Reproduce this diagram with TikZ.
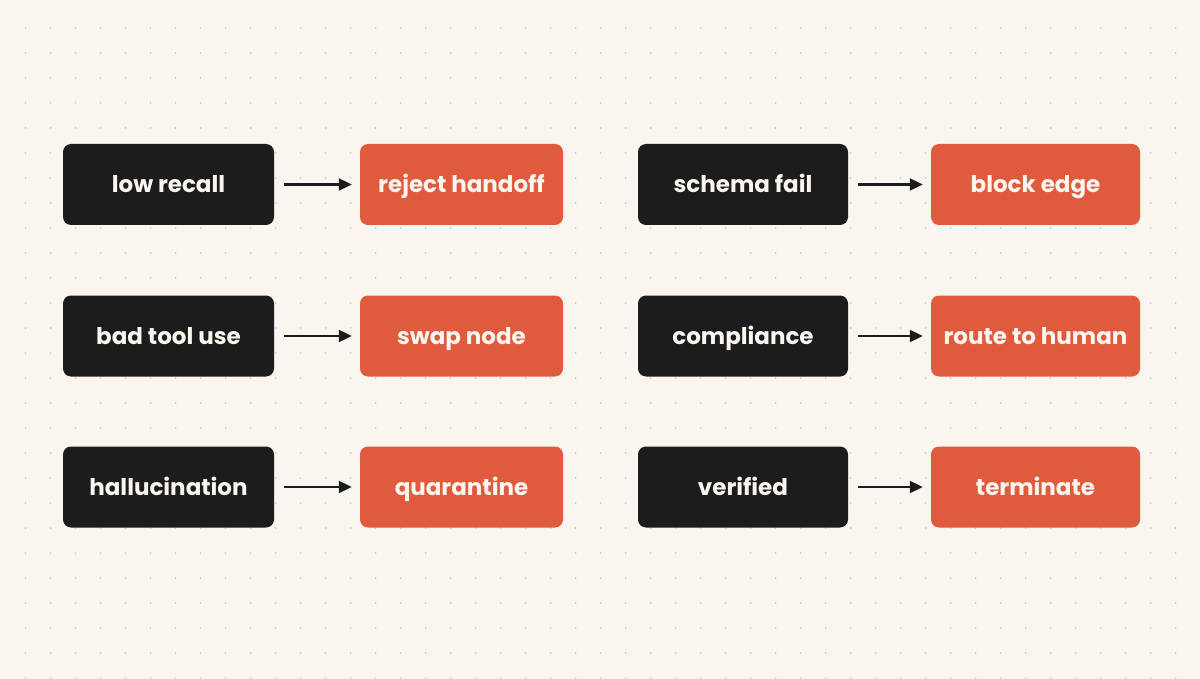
\documentclass[tikz,border=0pt]{standalone}
\usepackage{fontspec}
\setmainfont{Poppins}
\usetikzlibrary{arrows.meta}
\definecolor{bg}{HTML}{F9F6F0}
\definecolor{dotc}{HTML}{D2CDC4}
\definecolor{darkbox}{HTML}{1C1C1C}
\definecolor{orangebox}{HTML}{E05B3E}
\definecolor{boxtext}{HTML}{FAF6EF}
\tikzset{
  box/.style={rounded corners=8pt, inner sep=0pt, minimum height=81pt, text=boxtext,
    text height=17pt, text depth=0pt,
    font=\fontsize{23}{26}\selectfont\bfseries},
  cond/.style={box, fill=darkbox},
  act/.style={box, fill=orangebox},
  link/.style={-{Triangle[length=13pt,width=12pt]}, line width=2.1pt, draw=darkbox,
    shorten <=10pt, shorten >=8pt}
}
\begin{document}
\begin{tikzpicture}[x=1pt,y=-1pt]
\fill[bg] (0,0) rectangle (1200,679);
\useasboundingbox (0,0) rectangle (1200,679);
\foreach \i in {0,...,47}{
  \foreach \j in {0,...,26}{
    \fill[dotc] (25.5+25*\i,28+25*\j) circle (1pt);
  }
}
% left column
\node[cond, minimum width=211pt] (c1) at (168.5,184.5) {low recall};
\node[act, minimum width=203pt] (a1) at (461.5,184.5) {reject handoff};
\node[cond, minimum width=211pt] (c2) at (168.5,336) {bad tool use};
\node[act, minimum width=203pt] (a2) at (461.5,336) {swap node};
\node[cond, minimum width=211pt] (c3) at (168.5,487) {hallucination};
\node[act, minimum width=203pt] (a3) at (461.5,487) {quarantine};
% right column
\node[cond, minimum width=210pt] (c4) at (743,184.5) {schema fail};
\node[act, minimum width=209pt] (a4) at (1035.5,184.5) {block edge};
\node[cond, minimum width=210pt] (c5) at (743,336) {compliance};
\node[act, minimum width=209pt] (a5) at (1035.5,336) {route to human};
\node[cond, minimum width=210pt] (c6) at (743,487) {verified};
\node[act, minimum width=209pt] (a6) at (1035.5,487) {terminate};
\foreach \k in {1,...,6}{
  \draw[link] (c\k.east) -- (a\k.west);
}
\end{tikzpicture}
\end{document}
